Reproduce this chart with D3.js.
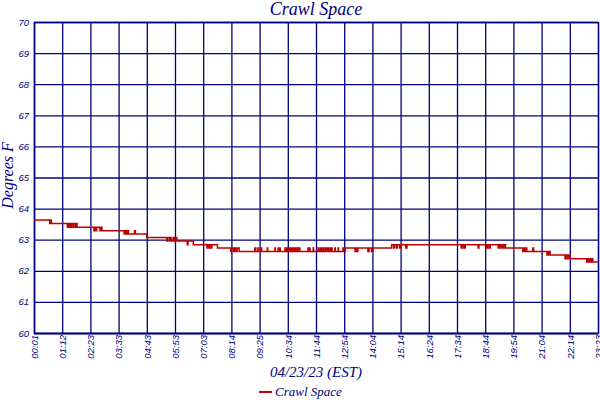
<!DOCTYPE html>
<html>
<head>
<meta charset="utf-8">
<script src="https://cdn.jsdelivr.net/npm/d3@7"></script>
<style>
  body { margin: 0; background: #fff; }
</style>
</head>
<body>
<div id="chart"></div>
<script>
// readings, step data (time of change, deg F)
var times = [
  "00:01","00:40","00:42","00:44",
  "01:24","01:26","01:28","01:29","01:31","01:34","01:38","01:39","01:43","01:46","01:48","01:50",
  "02:30","02:33","02:36","02:37","02:45","02:48","02:50",
  "03:45","03:47","03:49","03:51","03:52","03:55","03:56","04:11","04:13",
  "04:41",
  "05:31","05:33","05:38","05:39","05:42","05:47","05:50","05:52","05:56",
  "06:22","06:24","06:37",
  "07:11","07:13","07:16","07:17","07:21","07:23","07:37",
  "08:10","08:12","08:17","08:19","08:23","08:26","08:31",
  "09:10","09:12","09:17","09:18","09:23","09:27","09:41","09:42",
  "10:00","10:01","10:08","10:10","10:12","10:13","10:25","10:27","10:30","10:33",
  "10:36","10:37","10:40","10:42","10:45","10:47","10:50","10:52","10:55","10:56",
  "10:59","11:02","11:22","11:24","11:26","11:27","11:35","11:36",
  "11:47","11:49","11:53","11:56","12:00","12:01","12:05","12:09",
  "12:12","12:13","12:17","12:19","12:21","12:22","12:29","12:30","12:37","12:38",
  "12:49","12:51","12:55",
  "13:19","13:22","13:24","13:26","13:51","13:54","14:00","14:04",
  "14:50","14:55","14:57","15:02","15:04","15:10","15:12","15:25","15:28",
  "17:43","17:46","17:50","17:53","18:25","18:27","18:46","18:48","18:52","18:55",
  "19:15","19:18","19:22","19:24","19:28","19:30","19:33",
  "20:16","20:18","20:21","20:23","20:26","20:41","20:43",
  "21:16","21:18","21:20","21:22","21:24",
  "22:01","22:03","22:07","22:09","22:13",
  "22:55","22:57","23:00","23:02","23:05","23:08","23:10","23:23"
];
var temps = [
  63.63,63.52,63.63,63.52,
  63.40,63.52,63.40,63.52,63.40,63.52,63.40,63.52,63.40,63.52,63.40,63.40,
  63.29,63.40,63.29,63.40,63.29,63.40,63.29,
  63.18,63.29,63.18,63.29,63.18,63.29,63.18,63.29,63.18,
  63.07,
  62.96,63.07,62.96,63.07,62.96,63.07,62.96,63.07,62.96,
  62.84,62.96,62.84,
  62.73,62.84,62.73,62.84,62.73,62.84,62.73,
  62.62,62.73,62.62,62.73,62.62,62.73,62.62,
  62.73,62.62,62.73,62.62,62.73,62.62,62.73,62.62,
  62.73,62.62,62.73,62.62,62.73,62.62,62.73,62.62,62.73,62.62,
  62.73,62.62,62.73,62.62,62.73,62.62,62.73,62.62,62.73,62.62,
  62.73,62.62,62.73,62.62,62.73,62.62,62.73,62.62,
  62.73,62.62,62.73,62.62,62.73,62.62,62.73,62.62,
  62.73,62.62,62.73,62.62,62.73,62.62,62.73,62.62,62.73,62.62,
  62.73,62.62,62.73,
  62.62,62.73,62.62,62.73,62.62,62.73,62.62,62.73,
  62.84,62.73,62.84,62.73,62.84,62.73,62.84,62.73,62.84,
  62.73,62.84,62.73,62.84,62.73,62.84,62.73,62.84,62.73,62.84,
  62.73,62.84,62.73,62.84,62.73,62.84,62.73,
  62.62,62.73,62.62,62.73,62.62,62.73,62.62,
  62.51,62.62,62.51,62.62,62.51,
  62.39,62.51,62.39,62.51,62.39,
  62.28,62.39,62.28,62.39,62.28,62.39,62.28,62.28
];
var xTickLabels = ["00:01","01:12","02:23","03:33","04:43","05:53","07:03","08:14","09:25","10:34",
  "11:44","12:54","14:04","15:14","16:24","17:34","18:44","19:54","21:04","22:14","23:23"];
var yTicks = [60, 61, 62, 63, 64, 65, 66, 67, 68, 69, 70];
var seriesName = "Crawl Space";

function toMin(s) {
  var p = s.split(":");
  return +p[0] * 60 + +p[1];
}

var data = times.map(function (t, i) { return { t: toMin(t), v: temps[i] }; });

var margin = { top: 22, right: 2, bottom: 67, left: 34 },
    width = 600 - margin.left - margin.right,
    height = 400 - margin.top - margin.bottom;

var navy = "#00007f";

var svg = d3.select("#chart")
  .append("svg")
  .attr("width", 600)
  .attr("height", 400)
  .style("font-family", "'DejaVu Sans', sans-serif");

var g = svg.append("g")
  .attr("transform", "translate(" + margin.left + "," + margin.top + ")");

var t0 = toMin(xTickLabels[0]), t1 = toMin(xTickLabels[xTickLabels.length - 1]);
var x = d3.scaleLinear().domain([t0, t1]).range([0, width]);
var y = d3.scaleLinear().domain([60, 70]).range([height, 0]);

// tick positions are evenly spaced across the day
var xTickVals = xTickLabels.map(function (d, i) { return t0 + i * (t1 - t0) / (xTickLabels.length - 1); });

var xAxis = g.append("g")
  .attr("transform", "translate(0," + height + ")")
  .call(d3.axisBottom(x)
    .tickValues(xTickVals)
    .tickSize(-height)
    .tickFormat(function (d, i) { return xTickLabels[i]; }));
xAxis.selectAll("text")
  .attr("transform", "rotate(-90)")
  .attr("text-anchor", "end")
  .attr("x", -2)
  .attr("y", 0)
  .attr("dy", "0.35em");

var yAxis = g.append("g")
  .call(d3.axisLeft(y)
    .tickValues(yTicks)
    .tickSize(-width)
    .tickFormat(d3.format("d")));
yAxis.selectAll("text").attr("x", -5);

svg.selectAll(".tick line").attr("stroke", navy).attr("stroke-width", 1.3);
svg.selectAll(".domain").attr("stroke", navy).attr("stroke-width", 1.3);
svg.selectAll(".tick text")
  .attr("fill", navy)
  .style("font-size", "9.5px")
  .style("font-style", "italic");

// the readings
var line = d3.line()
  .curve(d3.curveStepAfter)
  .x(function (d) { return x(d.t); })
  .y(function (d) { return y(d.v); });

g.append("path")
  .datum(data)
  .attr("fill", "none")
  .attr("stroke", "#c00000")
  .attr("stroke-width", 1.5)
  .attr("d", line);

// titles
var serif = "'Liberation Serif', serif";
svg.append("text")
  .attr("x", margin.left + width / 2)
  .attr("y", 15)
  .attr("text-anchor", "middle")
  .attr("fill", navy)
  .style("font-family", serif)
  .style("font-style", "italic")
  .style("font-size", "18px")
  .text(seriesName);

svg.append("text")
  .attr("transform", "translate(13," + (margin.top + height / 2 - 2) + ")rotate(-90)")
  .attr("text-anchor", "middle")
  .attr("fill", navy)
  .style("font-family", serif)
  .style("font-style", "italic")
  .style("font-size", "16px")
  .text("Degrees F");

svg.append("text")
  .attr("x", margin.left + width / 2)
  .attr("y", 377)
  .attr("text-anchor", "middle")
  .attr("fill", navy)
  .style("font-family", serif)
  .style("font-style", "italic")
  .style("font-size", "15px")
  .text("04/23/23 (EST)");

// legend
var legend = svg.append("g").attr("transform", "translate(259,392)");
legend.append("line")
  .attr("x1", 0).attr("x2", 13)
  .attr("stroke", "#c00000")
  .attr("stroke-width", 2);
legend.append("text")
  .attr("x", 16)
  .attr("y", 4)
  .attr("fill", navy)
  .style("font-family", serif)
  .style("font-style", "italic")
  .style("font-size", "13px")
  .text(seriesName);
</script>
</body>
</html>
